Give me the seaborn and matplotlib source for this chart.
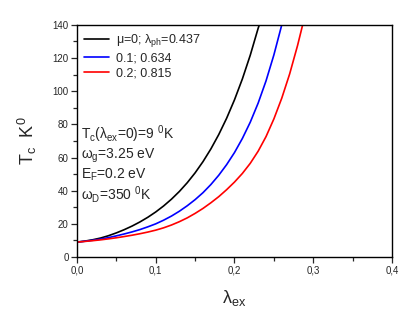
import numpy as np
import pandas as pd
import matplotlib
matplotlib.use("Agg")
import matplotlib.pyplot as plt
from matplotlib.ticker import MultipleLocator, FuncFormatter
import seaborn as sns

# curvas: Tc (K) vs lambda_ex
lam_mu0 = [0, 0.01, 0.02, 0.03, 0.04, 0.05, 0.06, 0.07, 0.08, 0.09, 0.1, 0.11, 0.12,
           0.13, 0.14, 0.15, 0.16, 0.17, 0.18, 0.19, 0.2, 0.21, 0.22, 0.23, 0.2315]
tc_mu0 = [9, 9.6, 10.4, 11.44, 12.84, 14.54, 16.48, 18.67, 21.16, 23.97, 27.16, 30.78, 34.88,
          39.52, 44.79, 50.75, 57.51, 65.16, 73.84, 83.67, 94.81, 107.4, 121.7, 137.9, 140]

lam_mu1 = [0, 0.01, 0.02, 0.03, 0.04, 0.05, 0.06, 0.07, 0.08, 0.09, 0.1, 0.11, 0.12,
           0.13, 0.14, 0.15, 0.16, 0.17, 0.18, 0.19, 0.2, 0.21, 0.22, 0.23, 0.24, 0.25, 0.26]
tc_mu1 = [9, 9.5, 10.1, 10.8, 11.7, 12.75, 13.9, 15.15, 16.55, 18.2, 20.0, 22.2, 24.7,
          27.6, 30.9, 34.6, 38.8, 43.7, 49.3, 55.7, 63.0, 71.5, 81.3, 92.8, 106.2, 121.9, 140]

lam_mu2 = [0, 0.01, 0.02, 0.03, 0.04, 0.05, 0.06, 0.07, 0.08, 0.09, 0.1, 0.11, 0.12,
           0.13, 0.14, 0.15, 0.16, 0.17, 0.18, 0.19, 0.2, 0.21, 0.22, 0.23, 0.24, 0.25,
           0.26, 0.27, 0.28, 0.2865]
tc_mu2 = [9, 9.4, 9.85, 10.35, 10.95, 11.6, 12.35, 13.15, 14.05, 15.05, 16.2, 17.6, 19.3,
          21.3, 23.6, 26.3, 29.3, 32.7, 36.4, 40.6, 45.2, 50.4, 56.5, 63.8, 72.6, 83.3,
          95.8, 110.4, 127.5, 140]

series_labels = [r"$\mu$=0; $\lambda_{ph}$=0.437", "0.1; 0.634", "0.2; 0.815"]
colors = ["black", "blue", "red"]

params_text = [
    r"T$_c$($\lambda_{ex}$=0)=9 $^0$K",
    r"$\omega_g$=3.25 eV",
    r"E$_F$=0.2 eV",
    r"$\omega_D$=350 $^0$K",
]

df = pd.concat([
    pd.DataFrame({"lam": lam_mu0, "Tc": tc_mu0, "serie": series_labels[0]}),
    pd.DataFrame({"lam": lam_mu1, "Tc": tc_mu1, "serie": series_labels[1]}),
    pd.DataFrame({"lam": lam_mu2, "Tc": tc_mu2, "serie": series_labels[2]}),
])

#%%
sns.set_style("ticks")
plt.rcParams["font.family"] = ["Liberation Sans", "DejaVu Sans"]
plt.rcParams["mathtext.fontset"] = "custom"
plt.rcParams["mathtext.rm"] = "Liberation Sans"
plt.rcParams["mathtext.it"] = "Liberation Sans"
plt.rcParams["mathtext.bf"] = "Liberation Sans:bold"

fig = plt.figure(figsize=(4.18, 3.27), dpi=100)
ax = fig.add_axes([0.184, 0.214, 0.754, 0.71])

sns.lineplot(data=df, x="lam", y="Tc", hue="serie", palette=colors,
             linewidth=1.2, ax=ax, sort=False, estimator=None)

ax.set_xlim(0, 0.4)
ax.set_ylim(0, 140)
ax.xaxis.set_major_locator(MultipleLocator(0.1))
ax.xaxis.set_minor_locator(MultipleLocator(0.05))
ax.yaxis.set_major_locator(MultipleLocator(20))
ax.yaxis.set_minor_locator(MultipleLocator(10))
ax.xaxis.set_major_formatter(FuncFormatter(lambda v, p: f"{v:.1f}".replace(".", ",")))
ax.tick_params(which="major", direction="out", length=4, width=0.9, labelsize=7, pad=2)
ax.tick_params(which="minor", direction="out", length=3, width=0.9)
for s in ax.spines.values():
    s.set_linewidth(1.0)
    s.set_color("black")

ax.set_xlabel(r"$\lambda_{ex}$", fontsize=13, labelpad=9)
ax.set_ylabel(r"T$_c$  K$^0$", fontsize=13, labelpad=10)

leg = ax.legend(loc="upper left", frameon=False, fontsize=9, handlelength=2.0,
                handletextpad=0.5, labelspacing=0.25, borderaxespad=0.2,
                bbox_to_anchor=(0.0, 1.0))

ys = [74, 61, 49.5, 37.5]
for t, yv in zip(params_text, ys):
    ax.text(0.005, yv, t, fontsize=10, va="center", ha="left")

fig.savefig("out.png", dpi=100)
